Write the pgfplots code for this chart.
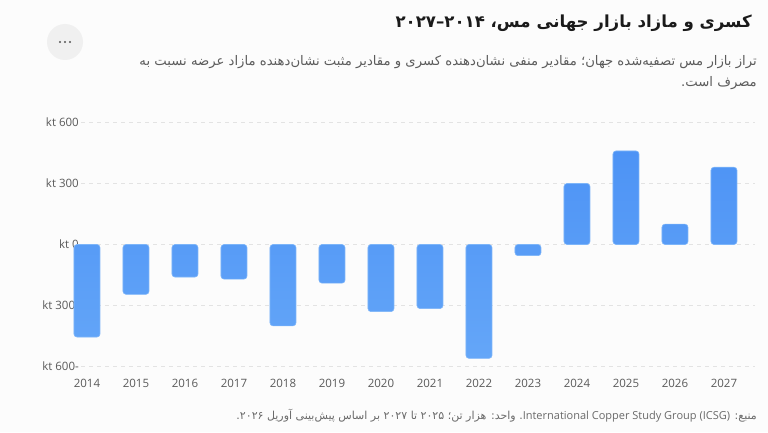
\documentclass[border=0pt]{standalone}
\usepackage{pgfplots}
\pgfplotsset{compat=1.18}
\usepackage{fontspec}
\setmainfont{Open Sans}
\newfontfamily\fa[Script=Arabic]{DejaVu Sans}
\TeXXeTstate=1
\definecolor{bg}{HTML}{FCFCFC}
\definecolor{bartop}{HTML}{4D93F5}
\definecolor{barbot}{HTML}{64A6F8}
\definecolor{barb}{HTML}{7DB5F9}
\definecolor{gridc}{HTML}{E3E3E3}
\definecolor{tickc}{HTML}{5A5A5A}
\definecolor{titlec}{HTML}{1A1A1A}
\definecolor{subc}{HTML}{5C5C5C}
\definecolor{footc}{HTML}{6A6A6A}
\definecolor{btn}{HTML}{F0F0F0}
\definecolor{dotc}{HTML}{555555}
\begin{document}
\begin{tikzpicture}[x=1pt,y=1pt]
\path[use as bounding box, fill=bg] (0,0) rectangle (768,432);
\fill[btn] (65,390) circle (18);
\fill[dotc] (60,390) circle (1.2);
\fill[dotc] (65,390) circle (1.2);
\fill[dotc] (70,390) circle (1.2);
\node[anchor=east, text=titlec, font=\fa\bfseries\fontsize{16.6}{19}\selectfont, inner sep=0] at (752,409) {\beginR کسری و مازاد بازار جهانی مس، ۲۰۱۴–۲۰۲۷\endR};
\node[anchor=east, text=subc, font=\fa\fontsize{13.2}{16}\selectfont, inner sep=0] at (757,370) {\beginR تراز بازار مس تصفیه‌شده جهان؛ مقادیر منفی نشان‌دهنده کسری و مقادیر مثبت نشان‌دهنده مازاد عرضه نسبت به\endR};
\node[anchor=east, text=subc, font=\fa\fontsize{13.2}{16}\selectfont, inner sep=0] at (757,349) {\beginR مصرف است.\endR};
\node[anchor=east, text=footc, font=\fa\fontsize{11}{13}\selectfont, inner sep=0] at (757,16) {\beginR منبع: \beginL{\rmfamily International Copper Study Group (ICSG)}\endL{}. واحد: هزار تن؛ ۲۰۲۵ تا ۲۰۲۷ بر اساس پیش‌بینی آوریل ۲۰۲۶.\endR};
\begin{axis}[
  at={(81pt,65.5pt)}, anchor=south west,
  scale only axis, width=674pt, height=244pt,
  xmin=-0.122, xmax=13.633, ymin=-600, ymax=600,
  clip=false,
  axis line style={draw=none},
  major tick length=0pt,
  ytick={-600,-300,0,300,600},
  yticklabels={kt 600-,kt 300-,kt 0,kt 300,kt 600},
  xtick={0,...,13},
  xticklabels={2014,2015,2016,2017,2018,2019,2020,2021,2022,2023,2024,2025,2026,2027},
  ymajorgrids,
  grid style={dash pattern=on 4pt off 4pt, color=gridc, line width=0.8pt},
  yticklabel style={anchor=east, inner sep=0pt, xshift=-2pt, text=tickc, font=\fontsize{11.5}{13}\selectfont},
  xticklabel style={anchor=north, inner sep=0pt, yshift=-12pt, text=tickc, font=\fontsize{11.5}{13}\selectfont},
]
\addplot[ybar, bar width=26pt, top color=bartop, bottom color=barbot, draw=barb, line width=0.6pt, rounded corners=3pt] coordinates {
(0,-455) (1,-245) (2,-160) (3,-170) (4,-400) (5,-190) (6,-330) (7,-315) (8,-560) (9,-55) (10,300) (11,460) (12,100) (13,380)
};
\end{axis}
\end{tikzpicture}
\end{document}
